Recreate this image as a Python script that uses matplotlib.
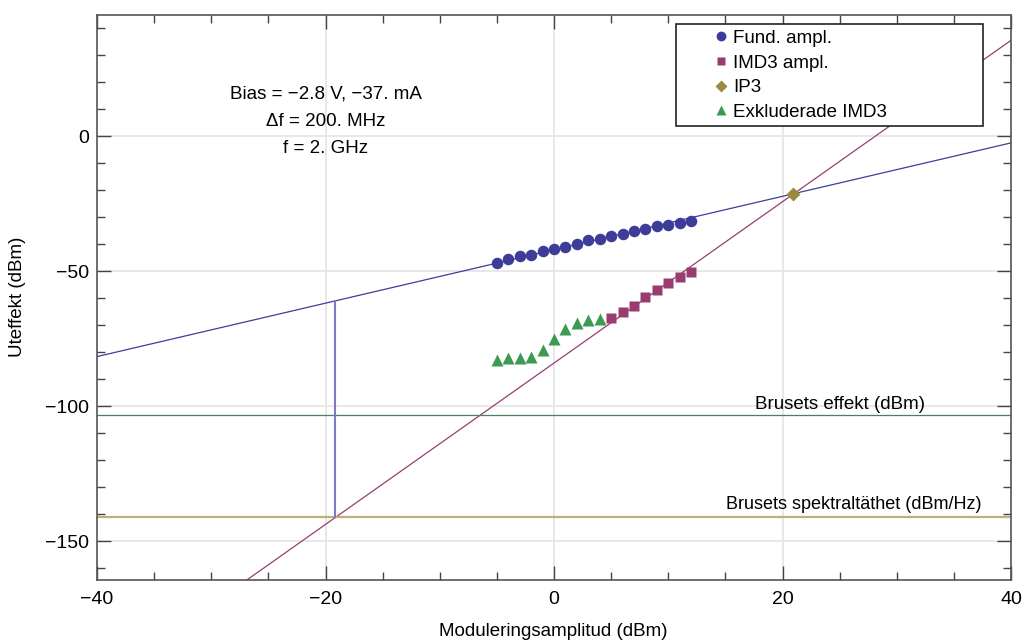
import matplotlib
matplotlib.use("Agg")
import matplotlib.pyplot as plt
import numpy as np
from matplotlib.patches import Rectangle
from matplotlib.ticker import MultipleLocator

plt.rcParams['font.family'] = ['Liberation Sans', 'DejaVu Sans']

# measured points (dBm)
fund_x = [-5, -4, -3, -2, -1, 0, 1, 2, 3, 4, 5, 6, 7, 8, 9, 10, 11, 12]
fund_y = [-46.8, -45.6, -44.4, -43.8, -42.6, -41.9, -41.0, -39.8, -38.5,
          -37.9, -37.0, -36.1, -34.9, -34.2, -33.3, -32.7, -32.0, -31.2]
imd3_x = [5, 6, 7, 8, 9, 10, 11, 12]
imd3_y = [-67.2, -65.1, -63.0, -59.5, -56.8, -54.2, -52.1, -50.2]
excl_x = [-5, -4, -3, -2, -1, 0, 1, 2, 3, 4]
excl_y = [-82.7, -82.3, -82.3, -81.7, -79.0, -74.9, -71.2, -69.0, -67.9, -67.5]
ip3_x = [20.9]
ip3_y = [-21.2]

# fitted lines: slope, intercept
fund_fit = (0.99, -42.0)
imd3_fit = (2.99, -84.0)
noise_power = -103.4
noise_density = -141.1
x_cross = -19.2

c_fund = '#3d3d99'
c_imd3 = '#993d71'
c_ip3 = '#998b3d'
c_excl = '#3d9954'
fs = 13.5

fig = plt.figure(figsize=(10.25, 6.42), dpi=100)
ax = fig.add_axes([97/1025, 1-580/642, 914/1025, 565/642])

xs = np.array([-40, 40])
ax.plot(xs, fund_fit[0]*xs + fund_fit[1], color=c_fund, lw=0.9, zorder=2)
ax.plot(xs, imd3_fit[0]*xs + imd3_fit[1], color=c_imd3, lw=0.9, zorder=2)
ax.axhline(noise_power, color='#46825e', lw=0.9, zorder=2)
ax.axhline(noise_density, color='#bfb07a', lw=1.6, zorder=2)
ax.plot([x_cross, x_cross], [noise_density, fund_fit[0]*x_cross + fund_fit[1]],
        color='#7b7bc8', lw=1.5, zorder=2)

ax.plot(fund_x, fund_y, 'o', color=c_fund, ms=8.3, mec='none', label='Fund. ampl.', zorder=3)
ax.plot(imd3_x, imd3_y, 's', color=c_imd3, ms=7.4, mec='none', label='IMD3 ampl.', zorder=3)
ax.plot(ip3_x, ip3_y, 'D', color=c_ip3, ms=7.2, mec='none', label='IP3', zorder=3)
ax.plot(excl_x, excl_y, '^', color=c_excl, ms=8.6, mec='none', label='Exkluderade IMD3', zorder=3)

ax.set_xlim(-40, 40)
ax.set_ylim(-164.4, 45)
ax.xaxis.set_major_locator(MultipleLocator(20))
ax.xaxis.set_minor_locator(MultipleLocator(5))
ax.yaxis.set_major_locator(MultipleLocator(50))
ax.yaxis.set_minor_locator(MultipleLocator(10))
ax.grid(True, which='major', color='#e6e6e6', lw=1.3, zorder=0)
ax.set_axisbelow(True)
ax.tick_params(which='both', direction='in', top=True, right=True,
               color='#444444', width=1, labelsize=14)
ax.tick_params(which='major', length=10)
ax.tick_params(which='minor', length=6)
ax.tick_params(axis='x', pad=8)
ax.tick_params(axis='y', pad=6)
for sp in ax.spines.values():
    sp.set_color('#555555')
    sp.set_linewidth(1.2)

minus = lambda v, p: f"{v:.0f}".replace('-', '\u2212')
ax.xaxis.set_major_formatter(plt.FuncFormatter(minus))
ax.yaxis.set_major_formatter(plt.FuncFormatter(minus))

ax.text(-20, 36 - (95 - 40) / 2.7, 'Bias = \u22122.8 V, \u221237. mA', ha='center', va='center', fontsize=fs)
ax.text(-20, 36 - (122 - 40) / 2.7, '\u0394f = 200. MHz', ha='center', va='center', fontsize=fs)
ax.text(-20, 36 - (149 - 40) / 2.7, 'f = 2. GHz', ha='center', va='center', fontsize=fs)

ax.text(25.0, noise_power + 1.0, 'Brusets effekt (dBm)', ha='center', va='bottom', fontsize=fs)
ax.text(26.2, noise_density + 1.6, 'Brusets spektralt\u00e4thet (dBm/Hz)', ha='center', va='bottom', fontsize=13)

ax.add_patch(Rectangle((0.633, 0.804), 0.336, 0.180, transform=ax.transAxes,
                       facecolor='white', edgecolor='#222222', lw=1.2, zorder=4))
leg = ax.legend(loc='upper left', bbox_to_anchor=(0.662, 0.997), frameon=False,
                fontsize=fs, handlelength=0.6, handletextpad=0.35, labelspacing=0.40,
                markerscale=0.85, borderpad=0.2, numpoints=1)
leg.set_zorder(5)

fig.text(18/1025, 1-297/642, 'Uteffekt (dBm)', rotation=90, ha='center', va='center', fontsize=fs)
fig.text(553/1025, 1-632/642, 'Moduleringsamplitud (dBm)', ha='center', va='center', fontsize=fs)

fig.savefig('out.png', dpi=100)
